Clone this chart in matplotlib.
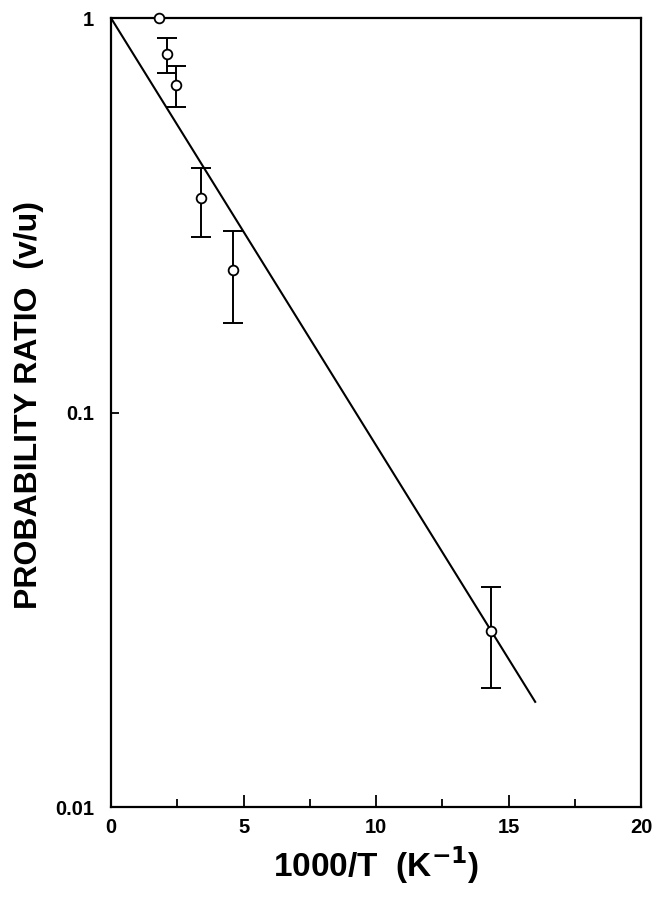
import numpy as np
import matplotlib
matplotlib.use("Agg")
import matplotlib.pyplot as plt
from matplotlib.ticker import FixedLocator, NullLocator

# data
inv_T = [1.8, 2.1, 2.45, 3.4, 4.6, 14.35]
ratio = [1.0, 0.81, 0.676, 0.35, 0.23, 0.0279]
err_lo = [0.0, 0.085, 0.081, 0.071, 0.061, 0.0079]
err_hi = [0.0, 0.08, 0.08, 0.067, 0.058, 0.0082]

fit_x = [0, 16]
fit_y = [1.0, 0.0185]

plt.rcParams['font.family'] = ['Liberation Sans', 'DejaVu Sans']
plt.rcParams['font.weight'] = 'bold'

fig = plt.figure(figsize=(6.57, 9.05), dpi=100)
ax = fig.add_axes([0.169, 0.108, 0.807, 0.872])

ax.plot(fit_x, fit_y, color='black', lw=1.5, zorder=2)

yerr = np.array([err_lo, err_hi])
# first point has no error bar
ax.errorbar(inv_T[1:], ratio[1:], yerr=yerr[:, 1:], fmt='none', ecolor='black',
            elinewidth=1.4, capsize=7, capthick=1.4, zorder=3)
ax.plot(inv_T, ratio, 'o', mfc='white', mec='black', ms=7, mew=1.3, zorder=4,
        clip_on=False)

ax.set_yscale('log')
ax.set_xlim(0, 20)
ax.set_ylim(0.01, 1)

ax.xaxis.set_major_locator(FixedLocator([0, 5, 10, 15, 20]))
ax.xaxis.set_minor_locator(FixedLocator([2.5, 7.5, 12.5, 17.5]))
ax.yaxis.set_major_locator(FixedLocator([0.01, 0.1, 1]))
ax.yaxis.set_minor_locator(NullLocator())
ax.set_yticklabels(['0.01', '0.1', '1'])

ax.tick_params(axis='both', which='both', direction='in', top=False, right=False,
               labelsize=14.5, width=1.3)
ax.tick_params(axis='x', which='major', length=9, pad=8)
ax.tick_params(axis='x', which='minor', length=6)
ax.tick_params(axis='y', which='major', length=6, pad=12)

for s in ax.spines.values():
    s.set_linewidth(1.6)

ax.set_xlabel('1000/T  (K$^{\\mathbf{-1}}$)', fontsize=24, fontweight='bold')
ax.set_ylabel('PROBABILITY RATIO  (v/u)', fontsize=23, fontweight='bold')
ax.xaxis.set_label_coords(0.5, -0.047)
ax.yaxis.set_label_coords(-0.126, 0.51)

fig.savefig('out.png', dpi=100)
